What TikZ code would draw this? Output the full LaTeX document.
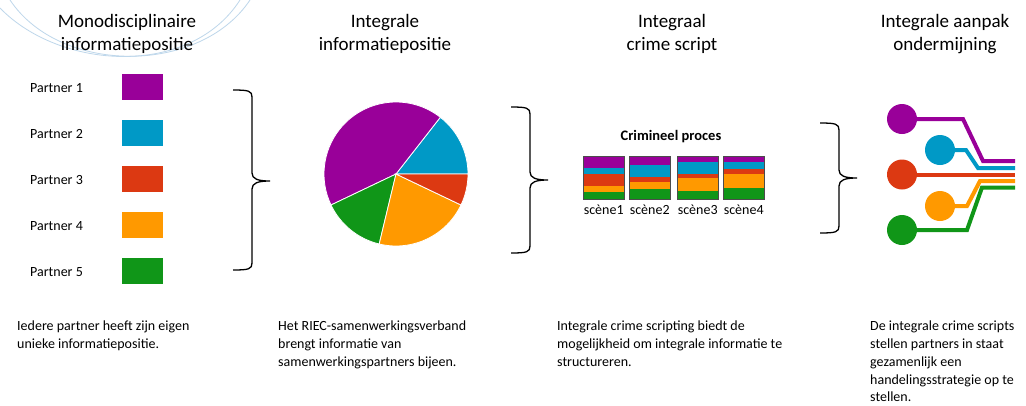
\documentclass[tikz,border=0pt]{standalone}
\usepackage{fontspec}
\setmainfont{Carlito}
\usetikzlibrary{positioning}

\definecolor{ppurple}{HTML}{990099}
\definecolor{pblue}{HTML}{0099C6}
\definecolor{pred}{HTML}{DC3912}
\definecolor{porange}{HTML}{FF9900}
\definecolor{pgreen}{HTML}{109618}
\definecolor{decoblue}{RGB}{190,215,235}

\tikzset{
  heading/.style={anchor=north, align=center, font=\fontsize{19}{23}\selectfont},
  body/.style={anchor=north west, align=left, inner sep=0pt, font=\fontsize{14}{17.7}\selectfont},
  partner/.style={anchor=west, inner sep=0pt, font=\fontsize{14}{18}\selectfont},
  swatch/.style={minimum width=41pt, minimum height=26pt, inner sep=0pt},
  scene/.style={draw=black!70, minimum width=41pt, minimum height=43pt, inner sep=0pt, anchor=north west},
  dot/.style={circle, minimum size=30pt, inner sep=0pt},
  wire/.style={line width=4pt, #1},
  brace/.style={line width=1.3pt, black}
}

\newcommand{\partbrace}[4]{%
  \draw[brace] (#1,#2) .. controls ({#1+16},#2) and ({#1+19},{#2+1}) .. ({#1+19},{#2+7})
    -- ({#1+19},{#4-8}) .. controls ({#1+19},{#4-2}) and ({#1+25},#4) .. ({#1+37},#4)
    .. controls ({#1+25},#4) and ({#1+19},{#4+2}) .. ({#1+19},{#4+8})
    -- ({#1+19},{#3-7}) .. controls ({#1+19},{#3-1}) and ({#1+16},#3) .. (#1,#3);}

\begin{document}
\begin{tikzpicture}[x=1pt, y=-1pt]
  \useasboundingbox[fill=white] (0,0) rectangle (1026,405);

  \draw[decoblue, line width=0.8pt] (10,0) .. controls (60,75) and (200,75) .. (250,0);
  \draw[decoblue, line width=0.8pt] (0,8) .. controls (60,70) and (190,78) .. (240,0);

  \node[heading] (h1) at (127,11) {Monodisciplinaire\\informatiepositie};
  \node[heading] (h2) at (385,11) {Integrale\\informatiepositie};
  \node[heading] (h3) at (672,11) {Integraal\\crime script};
  \node[heading] (h4) at (945,11) {Integrale aanpak\\ondermijning};

  \node[partner] (p1) at (30,88) {Partner 1};
  \node[partner] (p2) at (30,134) {Partner 2};
  \node[partner] (p3) at (30,180) {Partner 3};
  \node[partner] (p4) at (30,226) {Partner 4};
  \node[partner] (p5) at (30,272) {Partner 5};
  \node[swatch, fill=ppurple] (sw1) at (142,87) {};
  \node[swatch, fill=pblue] (sw2) at (142,133) {};
  \node[swatch, fill=pred] (sw3) at (142,179) {};
  \node[swatch, fill=porange] (sw4) at (142,225) {};
  \node[swatch, fill=pgreen] (sw5) at (142,271) {};

  \partbrace{233}{90}{270}{181}
  \partbrace{511}{107}{253}{180}
  \partbrace{820}{123}{233}{178}

  \coordinate (pie) at (396,174);
  \foreach \a/\b/\c in {0/52/pblue, 52/205.5/ppurple, 205.5/256.5/pgreen, 256.5/334.5/porange, 334.5/360/pred}
    \filldraw[fill=\c, draw=white, line width=0.8pt] (pie) -- ++(\a:72pt) arc[start angle=\a, end angle=\b, radius=72pt] -- cycle;

  \node[font=\bfseries\fontsize{14.5}{18}\selectfont] (proc) at (671,137) {Crimineel proces};
  \foreach \x/\a/\b/\c/\d [count=\i] in {583/167.7/174/186/191.7, 629/165/176.7/182.3/189.3,
      677/162.3/174/178.3/191, 723/161.7/169.3/174/188.3} {
    \fill[ppurple] (\x,156) rectangle ++(41,\a-156);
    \fill[pblue] (\x,\a) rectangle (\x+41,\b);
    \fill[pred] (\x,\b) rectangle (\x+41,\c);
    \fill[porange] (\x,\c) rectangle (\x+41,\d);
    \fill[pgreen] (\x,\d) rectangle (\x+41,199);
    \node[scene] (sc\i) at (\x,156) {};
    \node[font=\fontsize{14}{18}\selectfont, below=2pt of sc\i] (lb\i) {scène\i};
  }

  \coordinate (e1) at (1015,161);
  \coordinate (e2) at (1015,168);
  \coordinate (e3) at (1015,174.5);
  \coordinate (e4) at (1015,181);
  \coordinate (e5) at (1015,187.5);
  \draw[wire=ppurple] (902,119) -- (963,119) -- (983,161) -- (e1);
  \draw[wire=pblue] (940,150) -- (966,150) -- (978,168) -- (e2);
  \draw[wire=pred] (902,174.5) -- (e3);
  \draw[wire=porange] (940,206) -- (967,206) -- (980,181) -- (e4);
  \draw[wire=pgreen] (902,230) -- (967,230) -- (982,187.5) -- (e5);
  \node[dot, fill=ppurple] (n1) at (902,119) {};
  \node[dot, fill=pblue] (n2) at (940,150) {};
  \node[dot, fill=pred] (n3) at (902,174.5) {};
  \node[dot, fill=porange] (n4) at (940,206) {};
  \node[dot, fill=pgreen] (n5) at (902,230) {};

  \node[body] (t1) at (17,321) {Iedere partner heeft zijn eigen\\unieke informatiepositie.};
  \node[body] (t2) at (278,321) {Het RIEC-samenwerkingsverband\\brengt informatie van\\samenwerkingspartners bijeen.};
  \node[body] (t3) at (557,321) {Integrale crime scripting biedt de\\mogelijkheid om integrale informatie te\\structureren.};
  \node[body] (t4) at (870,321) {De integrale crime scripts\\stellen partners in staat\\gezamenlijk een\\handelingsstrategie op te\\stellen.};
\end{tikzpicture}
\end{document}
